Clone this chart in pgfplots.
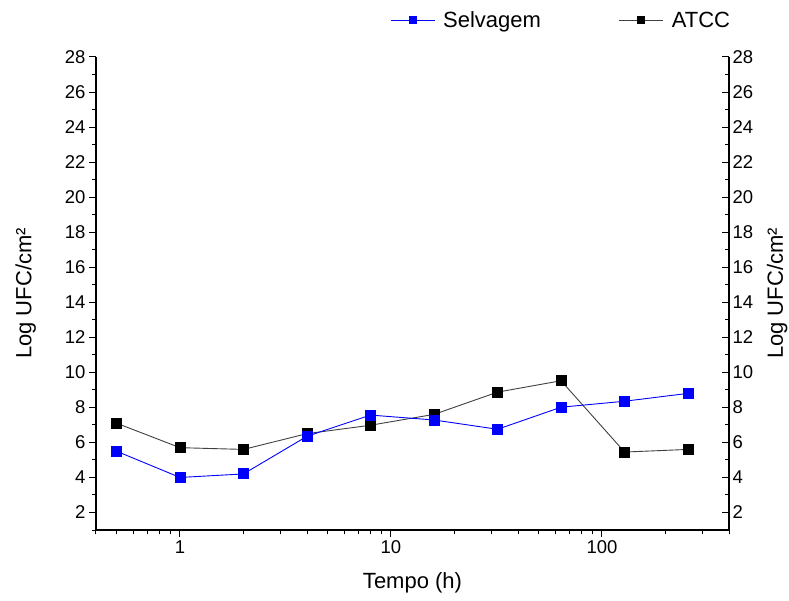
\documentclass[border=0pt]{standalone}
\usepackage{fontspec}
\setmainfont{Liberation Sans}
\usepackage{pgfplots}
\pgfplotsset{compat=1.18}
\begin{document}
\begin{tikzpicture}
\begin{axis}[
  width=633pt, height=473pt, scale only axis,
  xmode=log, xmin=0.4, xmax=400, ymin=1, ymax=28,
  ytick={2,4,...,28}, minor ytick={1,3,...,27},
  xtick={1,10,100}, xticklabels={1,10,100},
  minor xtick={0.4,0.5,0.6,0.7,0.8,0.9,2,3,4,5,6,7,8,9,20,30,40,50,60,70,80,90,200,300,400},
  tick label style={font=\fontsize{18.5}{22}\selectfont},
  major tick length=7pt, minor tick length=4pt,
  every tick/.style={line width=1pt, black},
  axis line style={line width=1.3pt},
  axis x line*=bottom, axis y line*=left, tick align=outside,
  xlabel={Tempo (h)}, ylabel={Log UFC/cm²},
  every axis x label/.style={at={(axis description cs:0.5,-0.112)}, anchor=center, font=\fontsize{22}{26}\selectfont},
  every axis y label/.style={at={(axis description cs:-0.111,0.5)}, rotate=90, anchor=center, font=\fontsize{22}{26}\selectfont},
  reverse legend,
  legend columns=2,
  legend style={draw=none, fill=none, inner sep=0pt, at={(0.4645,1.078)}, anchor=west,
    font=\fontsize{22}{26}\selectfont,
    /tikz/every odd column/.append style={column sep=6pt},
    /tikz/every even column/.append style={column sep=76pt}},
  legend image code/.code={\draw[#1, mark size=3.5pt, mark repeat=2, mark phase=2] plot coordinates {(0pt,0pt) (22pt,0pt) (44pt,0pt)};},
  /pgf/number format/assume math mode=true,
]
\addplot[black!75, line width=0.9pt, mark=square*, mark size=5pt, mark options={black, solid}]
  coordinates {(0.5,7.1) (1,5.7) (2,5.6) (4,6.5) (8,6.98) (16,7.6) (32,8.87) (64,9.52) (128,5.45) (256,5.6)};
\addlegendentry{ATCC}
\addplot[blue, line width=0.9pt, mark=square*, mark size=5pt, mark options={blue, solid}]
  coordinates {(0.5,5.5) (1,4.0) (2,4.2) (4,6.35) (8,7.56) (16,7.28) (32,6.75) (64,8.01) (128,8.35) (256,8.8)};
\addlegendentry{Selvagem}
\end{axis}
\begin{axis}[
  width=633pt, height=473pt, scale only axis,
  xmode=log, xmin=0.4, xmax=400, ymin=1, ymax=28,
  ytick={2,4,...,28}, minor ytick={1,3,...,27},
  tick label style={font=\fontsize{18.5}{22}\selectfont},
  major tick length=7pt, minor tick length=4pt,
  every tick/.style={line width=1pt, black},
  axis line style={line width=1.3pt},
  axis x line=none, axis y line*=right, tick align=inside,
  ylabel={Log UFC/cm²},
  every axis y label/.style={at={(axis description cs:1.076,0.5)}, rotate=90, anchor=center, font=\fontsize{22}{26}\selectfont},
  /pgf/number format/assume math mode=true,
]
\end{axis}
\pgfresetboundingbox
\path (-96pt,-70pt) rectangle (693pt,530pt);
\end{tikzpicture}
\end{document}
